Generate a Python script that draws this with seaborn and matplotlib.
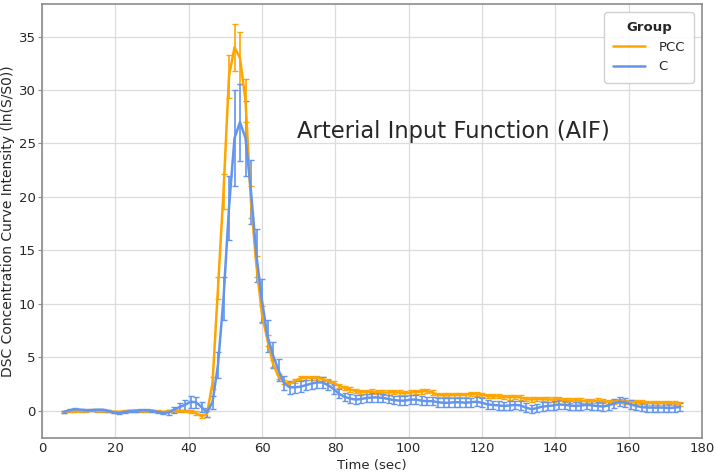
import numpy as np
import pandas as pd
import seaborn as sns
import matplotlib.pyplot as plt

# sampling times (sec)
time_sec = [6 + 1.5 * i for i in range(113)]

pcc_mean = [
    -0.1, 0.0, -0.05, 0.0, 0.0, 0.05, 0.0, 0.0, -0.05, -0.1,
    -0.1, -0.05, 0.0, 0.0, 0.0, 0.0, 0.0, -0.05, -0.1, -0.05,
    0.0, 0.0, -0.05, -0.1, -0.2, -0.5, -0.3, 2.6, 11.5, 20.5,
    31.3, 34.0, 33.0, 29.0, 19.5, 13.5, 9.0, 6.6, 4.4, 3.2,
    2.7, 2.5, 2.8, 3.05, 3.1, 3.1, 3.1, 2.95, 2.8, 2.6,
    2.35, 2.15, 2.0, 1.85, 1.75, 1.75, 1.8, 1.75, 1.7, 1.7,
    1.75, 1.7, 1.65, 1.7, 1.75, 1.8, 1.85, 1.7, 1.5, 1.45,
    1.45, 1.5, 1.5, 1.5, 1.55, 1.55, 1.5, 1.4, 1.35, 1.35,
    1.3, 1.25, 1.3, 1.25, 1.1, 1.05, 1.1, 1.1, 1.05, 1.05,
    1.1, 1.0, 0.95, 1.0, 0.95, 0.9, 0.9, 0.95, 0.9, 0.85,
    0.85, 0.9, 0.85, 0.8, 0.8, 0.8, 0.75, 0.75, 0.7, 0.75,
    0.7, 0.7, 0.65,
]
pcc_err = [
    0.1, 0.1, 0.1, 0.1, 0.1, 0.1, 0.1, 0.1, 0.1, 0.1,
    0.1, 0.1, 0.1, 0.1, 0.1, 0.1, 0.1, 0.1, 0.1, 0.1,
    0.1, 0.1, 0.1, 0.15, 0.2, 0.2, 0.3, 0.6, 1.0, 1.6,
    2.0, 2.2, 2.4, 2.0, 1.5, 1.0, 0.8, 0.5, 0.35, 0.25,
    0.2, 0.2, 0.2, 0.2, 0.2, 0.2, 0.2, 0.2, 0.2, 0.2,
    0.2, 0.2, 0.2, 0.2, 0.2, 0.2, 0.2, 0.2, 0.2, 0.2,
    0.2, 0.2, 0.2, 0.2, 0.2, 0.2, 0.2, 0.2, 0.2, 0.2,
    0.2, 0.2, 0.2, 0.2, 0.2, 0.2, 0.2, 0.2, 0.2, 0.2,
    0.2, 0.2, 0.2, 0.2, 0.2, 0.2, 0.2, 0.2, 0.2, 0.2,
    0.2, 0.2, 0.2, 0.2, 0.2, 0.2, 0.2, 0.2, 0.2, 0.2,
    0.2, 0.2, 0.2, 0.2, 0.2, 0.2, 0.2, 0.2, 0.2, 0.2,
    0.2, 0.2, 0.2,
]

c_mean = [
    -0.1, 0.05, 0.15, 0.1, 0.05, 0.05, 0.1, 0.1, 0.0, -0.15,
    -0.2, -0.1, -0.05, 0.0, 0.05, 0.05, 0.0, -0.1, -0.2, -0.15,
    0.1, 0.35, 0.55, 0.85, 0.8, 0.35, -0.15, 0.8, 4.3, 10.5,
    19.0, 25.5, 27.0, 25.5, 20.5, 14.5, 10.3, 7.0, 5.2, 3.8,
    2.6, 2.2, 2.2, 2.25, 2.4, 2.55, 2.65, 2.65, 2.4, 2.05,
    1.6, 1.3, 1.15, 1.05, 1.1, 1.2, 1.25, 1.25, 1.2, 1.1,
    1.0, 0.95, 0.95, 1.05, 1.05, 0.95, 0.9, 0.9, 0.8, 0.75,
    0.75, 0.8, 0.8, 0.75, 0.8, 0.85, 0.75, 0.6, 0.55, 0.5,
    0.45, 0.5, 0.55, 0.5, 0.3, 0.15, 0.25, 0.4, 0.45, 0.5,
    0.6, 0.55, 0.5, 0.45, 0.5, 0.55, 0.5, 0.45, 0.4, 0.5,
    0.7, 0.85, 0.8, 0.6, 0.45, 0.35, 0.3, 0.3, 0.3, 0.3,
    0.25, 0.3, 0.35,
]
c_err = [
    0.1, 0.1, 0.1, 0.1, 0.1, 0.1, 0.1, 0.1, 0.1, 0.1,
    0.1, 0.1, 0.1, 0.1, 0.1, 0.1, 0.1, 0.1, 0.1, 0.2,
    0.3, 0.4, 0.5, 0.55, 0.5, 0.45, 0.4, 0.6, 1.2, 2.0,
    3.0, 4.5, 3.6, 3.5, 3.0, 2.5, 2.0, 1.5, 1.2, 1.0,
    0.7, 0.6, 0.55, 0.5, 0.5, 0.5, 0.5, 0.5, 0.5, 0.5,
    0.45, 0.4, 0.4, 0.4, 0.4, 0.4, 0.4, 0.4, 0.4, 0.4,
    0.4, 0.4, 0.4, 0.4, 0.4, 0.4, 0.4, 0.4, 0.4, 0.4,
    0.4, 0.4, 0.4, 0.4, 0.4, 0.4, 0.4, 0.4, 0.4, 0.4,
    0.4, 0.4, 0.4, 0.4, 0.4, 0.4, 0.4, 0.4, 0.4, 0.4,
    0.4, 0.4, 0.4, 0.4, 0.4, 0.4, 0.4, 0.4, 0.4, 0.4,
    0.4, 0.4, 0.4, 0.4, 0.4, 0.4, 0.4, 0.4, 0.4, 0.4,
    0.4, 0.4, 0.4,
]

groups = ['PCC', 'C']
palette = {'PCC': '#FFA500', 'C': '#6495ED'}


def build_frame():
    rows = []
    for name, mean, err in [('PCC', pcc_mean, pcc_err), ('C', c_mean, c_err)]:
        for t, m, e in zip(time_sec, mean, err):
            rows.append({'Time (sec)': t, 'value': m, 'err': e, 'Group': name})
    return pd.DataFrame(rows)


df = build_frame()

sns.set_style("whitegrid", {'axes.edgecolor': '#8c8c8c', 'grid.color': '#dcdcdc'})
plt.rcParams['font.family'] = ['DejaVu Sans']

fig = plt.figure(figsize=(7.15, 4.76), dpi=100)
ax = fig.add_axes([42 / 715, 1 - 438 / 476, 660 / 715, 434 / 476])

sns.lineplot(data=df, x='Time (sec)', y='value', hue='Group',
             hue_order=groups, palette=palette, linewidth=1.8, ax=ax)

for name in groups:
    sub = df[df['Group'] == name]
    ax.errorbar(sub['Time (sec)'], sub['value'], yerr=sub['err'],
                fmt='none', ecolor=palette[name], elinewidth=1.2,
                capsize=2.2, capthick=1.0, zorder=1.5)

ax.set_xlim(0, 180)
ax.set_xticks(range(0, 181, 20))
ax.set_xlabel('Time (sec)', fontsize=9.5, labelpad=3)
ax.set_ylabel('DSC Concentration Curve Intensity (ln(S/S0))', fontsize=10, labelpad=3)
ax.tick_params(axis='x', labelsize=9.5, length=0, pad=3)
ax.tick_params(axis='y', labelsize=9.5, left=True, length=3, pad=1.5, color='#8c8c8c')
for sp in ax.spines.values():
    sp.set_linewidth(1.2)
ax.grid(linewidth=0.9)

ax.text(69.5, 26.1, 'Arterial Input Function (AIF)', fontsize=16.3, va='center', ha='left')

leg = ax.legend(title='Group', loc='upper right', fontsize=9.5, title_fontsize=9.5,
                borderaxespad=0.6, borderpad=0.7, handlelength=2.4,
                handletextpad=1.0, framealpha=0.9)
leg.get_title().set_fontweight('bold')

plt.savefig('out.png', dpi=100)
